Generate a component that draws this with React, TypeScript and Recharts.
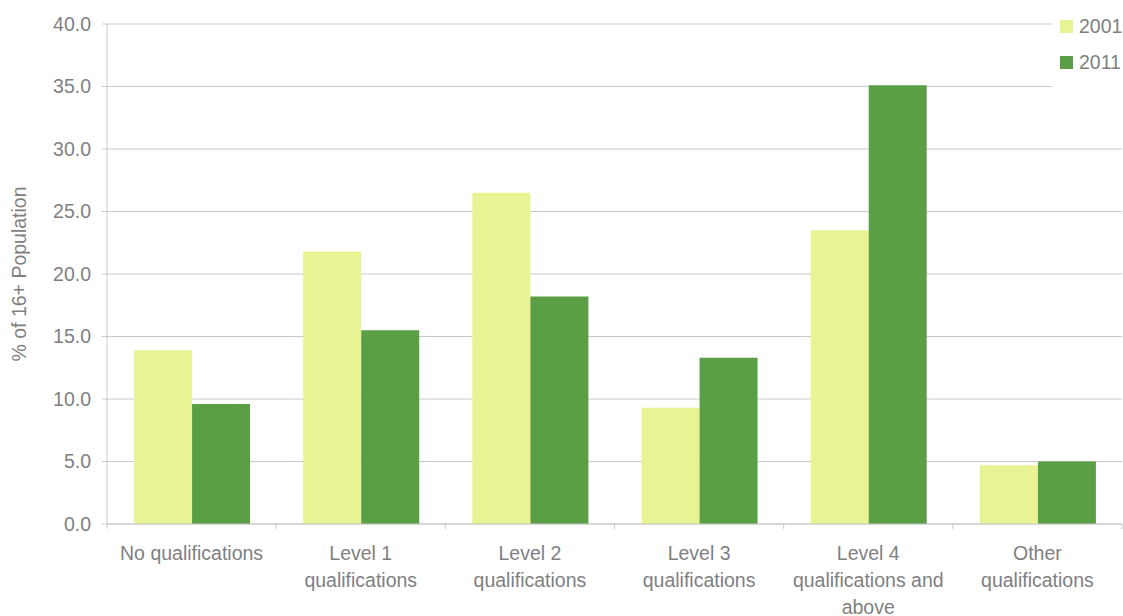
import { BarChart, Bar, XAxis, YAxis, CartesianGrid, Legend } from 'recharts';

const categories = [
  'No qualifications',
  'Level 1\nqualifications',
  'Level 2\nqualifications',
  'Level 3\nqualifications',
  'Level 4\nqualifications and\nabove',
  'Other\nqualifications',
];
const values2001 = [13.9, 21.8, 26.5, 9.3, 23.5, 4.7];
const values2011 = [9.6, 15.5, 18.2, 13.3, 35.1, 5.0];
const yTicks = [0, 5, 10, 15, 20, 25, 30, 35, 40];

const data = categories.map((name, i) => ({
  name,
  y2001: values2001[i],
  y2011: values2011[i],
}));

const FONT = '"Liberation Sans", Arial, sans-serif';
const FS = 19.5;
const TEXT = '#7f7f7f';
const GRID = '#c9c9c9';

function CategoryTick(props: any) {
  const { x, y, payload, index } = props;
  const half = payload?.offset ?? 84.5;
  const lines = String(payload.value).split('\n');
  return (
    <g>
      <line x1={x - half} y1={y} x2={x - half} y2={y + 5} stroke={GRID} />
      {index === categories.length - 1 && (
        <line x1={x + half} y1={y} x2={x + half} y2={y + 5} stroke={GRID} />
      )}
      <text x={x} y={y + 36} textAnchor="middle" fill={TEXT} fontSize={FS} fontFamily={FONT}>
        {lines.map((l, i) => (
          <tspan key={i} x={x} dy={i === 0 ? 0 : 27}>
            {l}
          </tspan>
        ))}
      </text>
    </g>
  );
}

function LegendBox(props: any) {
  const items = props.payload || [];
  return (
    <div style={{ background: '#fff', padding: '8px 0 8px 8px' }}>
      {items.map((it: any) => (
        <div
          key={it.value}
          style={{ display: 'flex', alignItems: 'center', height: 36, fontFamily: FONT, fontSize: FS, color: TEXT }}
        >
          <span style={{ width: 13, height: 13, background: it.color, marginRight: 6, display: 'inline-block' }} />
          {it.value}
        </div>
      ))}
    </div>
  );
}

export default function App() {
  return (
    <div style={{ position: 'absolute', left: 0, top: 0, background: '#fff' }}>
      <BarChart
        width={1123}
        height={616}
        data={data}
        margin={{ top: 24, right: 1, bottom: 2, left: 8 }}
        barGap={0}
        barCategoryGap="16%"
      >
        <CartesianGrid horizontal vertical={false} stroke={GRID} />
        <XAxis
          dataKey="name"
          interval={0}
          height={90}
          tickLine={false}
          tickSize={0}
          tickMargin={0}
          axisLine={{ stroke: GRID }}
          tick={<CategoryTick />}
        />
        <YAxis
          width={99}
          domain={[0, 40]}
          ticks={yTicks}
          interval={0}
          tickFormatter={(v) => Number(v).toFixed(1)}
          tick={{ fill: TEXT, fontSize: FS, fontFamily: FONT }}
          tickLine={{ stroke: GRID }}
          tickSize={5}
          tickMargin={11}
          axisLine={{ stroke: GRID }}
          label={{
            value: '% of 16+ Population',
            angle: -90,
            position: 'insideLeft',
            offset: 11,
            style: { textAnchor: 'middle', fill: TEXT, fontSize: FS, fontFamily: FONT },
          }}
        />
        <Legend
          layout="vertical"
          align="center"
          verticalAlign="middle"
          content={<LegendBox />}
          wrapperStyle={{ position: 'absolute', left: 1052, top: 0, width: 71, right: 'auto', bottom: 'auto' }}
        />
        <Bar dataKey="y2001" name="2001" fill="#e8f393" isAnimationActive={false} />
        <Bar dataKey="y2011" name="2011" fill="#5a9f45" isAnimationActive={false} />
      </BarChart>
    </div>
  );
}
